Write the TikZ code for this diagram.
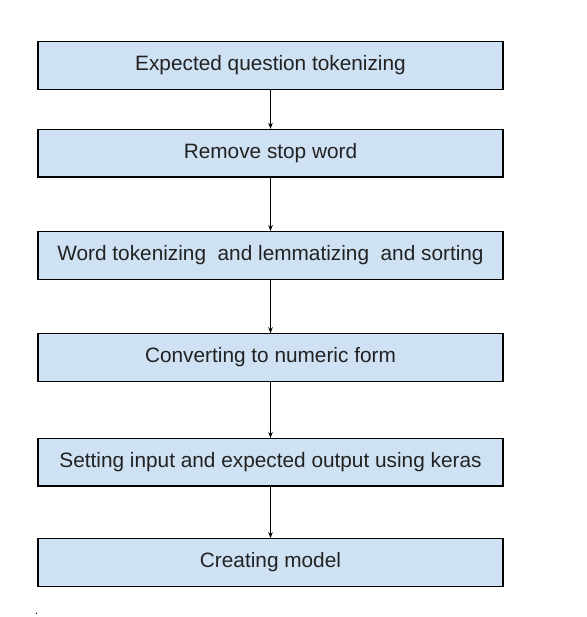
\documentclass[tikz,border=0pt]{standalone}
\usepackage{fontspec}
\setmainfont{Liberation Sans}
\usetikzlibrary{positioning,arrows.meta}
\definecolor{boxblue}{HTML}{CFE2F3}
\definecolor{textgray}{HTML}{222222}
\begin{document}
\begin{tikzpicture}[node distance=53.5pt,
    box/.style={
        rectangle,
        draw=black, line width=1.2pt,
        fill=boxblue,
        text=textgray,
        font=\fontsize{20.8}{24}\selectfont,
        minimum width=465pt,
        minimum height=47.5pt,
        text centered},
    arrow/.style={
        line width=0.9pt,
        -{Stealth[length=6pt,width=4.5pt]}}
    ]
    \useasboundingbox (0,0) rectangle (586pt,617pt);

    \node (tokenize) [box] at (270.5pt,551.5pt) {Expected question tokenizing};
    \node (stopword) [box, below=39pt of tokenize] {Remove stop word};
    \node (lemma) [box, below=of stopword] {Word tokenizing\ \ and lemmatizing\ \ and sorting};
    \node (numeric) [box, below=of lemma] {Converting to numeric form};
    \node (keras) [box, below=56pt of numeric] {Setting input and expected output using keras};
    \node (model) [box, below=51.5pt of keras] {Creating model};
    \node (dot) [inner sep=0pt, anchor=base, font=\fontsize{11}{13}\selectfont] at (36.7pt,2pt) {.};

    \draw [arrow] (tokenize) -- (stopword);
    \draw [arrow] (stopword) -- (lemma);
    \draw [arrow] (lemma) -- (numeric);
    \draw [arrow] (numeric) -- (keras);
    \draw [arrow] (keras) -- (model);

    \end{tikzpicture}
\end{document}
